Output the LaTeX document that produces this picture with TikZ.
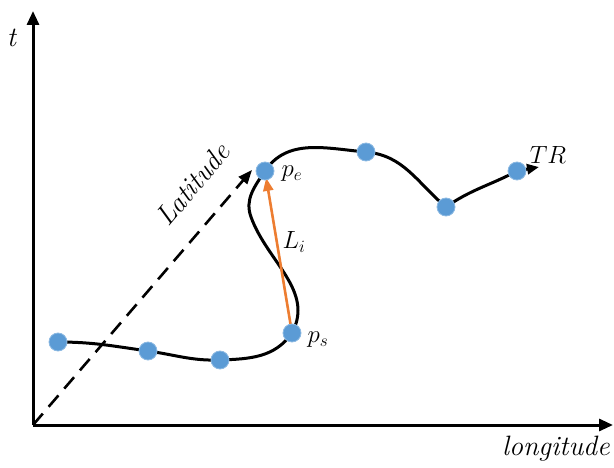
\documentclass[tikz,border=0pt]{standalone}
\usetikzlibrary{arrows.meta}
\definecolor{dotblue}{RGB}{91,155,213}
\definecolor{arroworange}{RGB}{237,125,49}
\begin{document}
\begin{tikzpicture}[x=1pt,y=1pt,
  axis/.style={line width=3pt,-{Triangle[length=14pt,width=12pt]}},
  dot/.style={circle,fill=dotblue,draw=dotblue!70!white,line width=0.8pt,inner sep=0pt,minimum size=18pt},
  curve/.style={line width=3pt},
  lbl/.style={font=\fontsize{25}{30}\selectfont},
  word/.style={font=\fontsize{28}{32}\selectfont}]
\useasboundingbox (0,0) rectangle (614,467);
% axes
\coordinate (O) at (33,42);
\coordinate (ttop) at (33,456);
\coordinate (xend) at (613,42);
\draw[axis] (O) -- (ttop);
\draw[axis] (O) -- (xend);
\node[word] (tl) at (12,429) {\textit{t}};
\node[word] (lon) at (556,18) {\textit{longitude}};
% latitude dashed
\coordinate (latend) at (252,297);
\draw[line width=2.6pt,dash pattern=on 15pt off 9pt,-{Triangle[length=14pt,width=11pt]}] (O) -- (latend);
\node[word,rotate=50] (lat) at (193,283) {\textit{Latitude}};
% points
\coordinate (P1) at (58,125);
\coordinate (P2) at (148,116);
\coordinate (P3) at (220,107);
\coordinate (ps) at (292,134);
\coordinate (m) at (251,250);
\coordinate (pe) at (265,296);
\coordinate (P6) at (366,315);
\coordinate (P7) at (446,260);
\coordinate (P8) at (517,296);
\coordinate (tend) at (539,300);
\draw[curve] (P1) to[out=0,in=172] (P2) to[out=-8,in=182] (P3)
  to[out=2,in=235] (ps) to[out=62,in=-70] (m) to[out=110,in=236] (pe)
  to[out=56,in=175] (P6) to[out=-5,in=140] (P7) to[out=35,in=208] (P8);
\draw[curve,-{Triangle[length=12pt,width=10pt]}] (P8) -- (tend);
% orange arrow
\draw[arroworange,line width=2.6pt,-{Triangle[length=13pt,width=10pt]},shorten >=7pt] (ps) -- (pe);
% dots
\foreach \p in {P1,P2,P3,ps,pe,P6,P7,P8}{\node[dot] (d\p) at (\p) {};}
\node[lbl] (pel) at (292,293) {$p_e$};
\node[lbl] (psl) at (318,127) {$p_s$};
\node[lbl] (Li) at (294,225) {$L_i$};
\node[lbl] (TR) at (548,312) {$TR$};
\end{tikzpicture}
\end{document}
